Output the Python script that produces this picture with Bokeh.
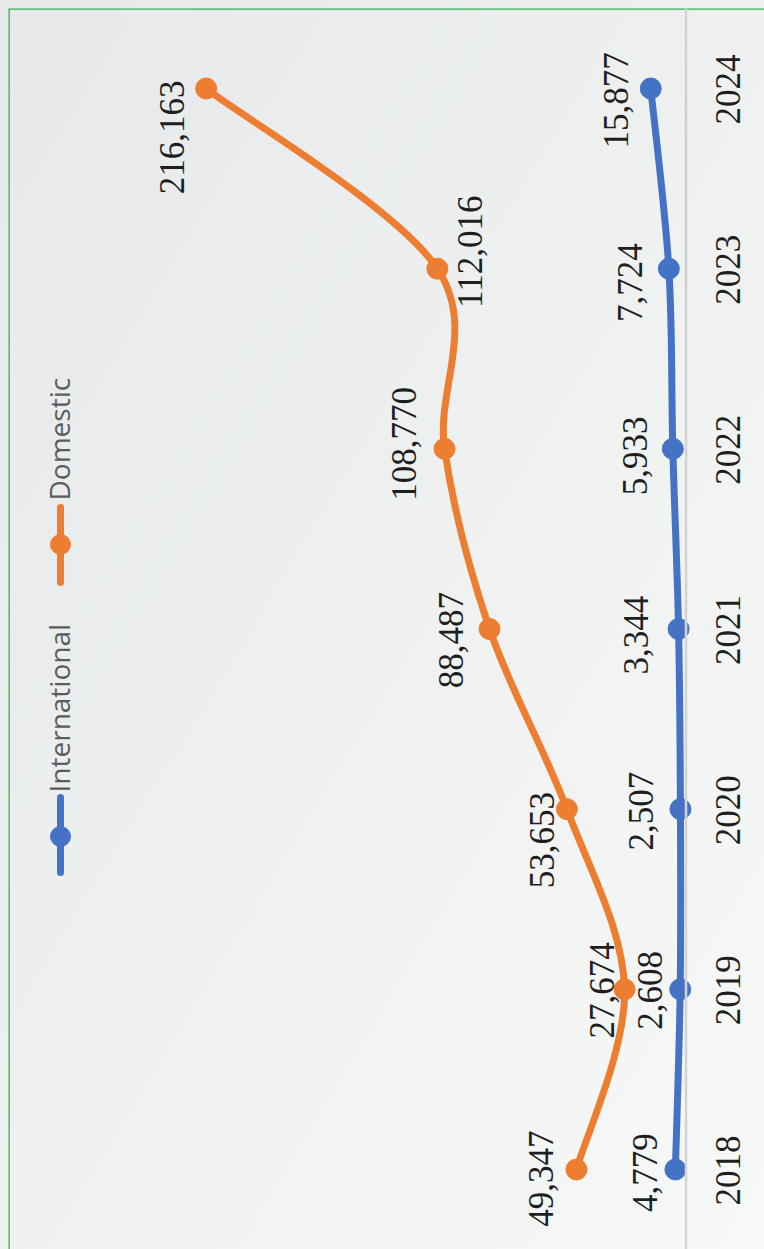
import math
import numpy as np
from bokeh.plotting import figure
from bokeh.models import ColumnDataSource, Range1d, Span
from bokeh.core.properties import value
from bokeh.embed import file_html
from bokeh.resources import INLINE

# ---------------- data ----------------
years = [2018, 2019, 2020, 2021, 2022, 2023, 2024]
international = [4779, 2608, 2507, 3344, 5933, 7724, 15877]
domestic = [49347, 27674, 53653, 88487, 108770, 112016, 216163]
series_names = ["International", "Domestic"]
series_colors = ["#4472C4", "#ED7D31"]

# ---------------- style: label nudges (screen px) ----------------
int_label_dx = [-30, -30, -39, -43, -38, -39, -35]
int_label_dy = [3, 1, 2, 6, 7, 14, 12]
dom_label_dx = [-35, -23, -25, -39, -41, 33, -34]
dom_label_dy = [9, 1, 31, 11, -5, -17, 49]

# ---------------- layout ----------------
MARGIN = 8
FW, FH = 756, 1241       # frame size
ZERO_PX = 677.5          # frame px (from left) where value 0 sits
PX_PER_UNIT = 0.00222    # px per unit of value
Y_PAD = 0.444            # years of padding at each end

x_range = Range1d(ZERO_PX / PX_PER_UNIT, -(FW - ZERO_PX) / PX_PER_UNIT)
y_range = Range1d(years[0] - Y_PAD, years[-1] + Y_PAD)
STEP = FH / (y_range.end - y_range.start)


def v_at(frame_x):
    return (ZERO_PX - frame_x) / PX_PER_UNIT


def yr_at(frame_y):
    return y_range.end - frame_y / STEP


p = figure(width=FW + MARGIN, height=FH + MARGIN, x_range=x_range, y_range=y_range,
           output_backend="svg", toolbar_location=None,
           min_border_left=MARGIN, min_border_top=MARGIN, min_border_right=0, min_border_bottom=0,
           x_axis_location=None, y_axis_location=None)
p.grid.visible = False
p.outline_line_color = None
p.background_fill_alpha = 0
p.border_fill_alpha = 0
p.styles = {"background": "linear-gradient(to bottom right, #e6e8ea 0%, #eef1f0 50%, #f6f9f8 100%)"}

# green canvas edge (top, left)
p.add_layout(Span(location=y_range.end, dimension="width", line_color="#2fb04a", line_width=2.5))
p.add_layout(Span(location=x_range.start, dimension="height", line_color="#2fb04a", line_width=2.5))
# category axis line
p.add_layout(Span(location=0, dimension="height", line_color="#d3d3d3", line_width=2.5))


def smooth_segments(vals, yrs):
    v = np.asarray(vals, dtype=float)
    t = np.asarray(yrs, dtype=float)
    n = len(v)
    out = {k: [] for k in ["x0", "y0", "x1", "y1", "cx0", "cy0", "cx1", "cy1"]}
    for i in range(n - 1):
        a = max(i - 1, 0)
        d = min(i + 2, n - 1)
        out["x0"].append(v[i]); out["y0"].append(t[i])
        out["x1"].append(v[i + 1]); out["y1"].append(t[i + 1])
        out["cx0"].append(v[i] + (v[i + 1] - v[a]) / 6)
        out["cy0"].append(t[i] + (t[i + 1] - t[a]) / 6)
        out["cx1"].append(v[i + 1] - (v[d] - v[i]) / 6)
        out["cy1"].append(t[i + 1] - (t[d] - t[i]) / 6)
    return out


label_font = value("Liberation Serif")
for vals, color, dx, dy in [(international, series_colors[0], int_label_dx, int_label_dy),
                            (domestic, series_colors[1], dom_label_dx, dom_label_dy)]:
    seg = ColumnDataSource(smooth_segments(vals, years))
    p.bezier(x0="x0", y0="y0", x1="x1", y1="y1", cx0="cx0", cy0="cy0", cx1="cx1", cy1="cy1",
             source=seg, line_color=color, line_width=7, line_cap="round")
    src = ColumnDataSource(dict(v=vals, yr=years, lab=[f"{x:,}" for x in vals], dx=dx, dy=dy))
    p.scatter(x="v", y="yr", source=src, size=21, fill_color=color, line_color=color)
    p.text(x="v", y="yr", text="lab", source=src, x_offset="dx", y_offset="dy",
           angle=math.pi / 2, text_align="center", text_baseline="middle",
           text_font=label_font, text_font_size="35px", text_color="#1e1e1e")

# category (year) labels
ysrc = ColumnDataSource(dict(v=[0] * len(years), yr=years, lab=[str(y) for y in years]))
p.text(x="v", y="yr", text="lab", source=ysrc, x_offset=42, y_offset=1,
       angle=math.pi / 2, text_align="center", text_baseline="middle",
       text_font=label_font, text_font_size="35px", text_color="#1e1e1e")

# legend (rotated, drawn manually)
leg_x = v_at(52)
leg_items = [(series_names[0], series_colors[0], 864, 789, 828, 784),
             (series_names[1], series_colors[1], 574, 499, 536, 492)]
for name, color, fy0, fy1, fyc, fyt in leg_items:
    p.segment(x0=[leg_x], y0=[yr_at(fy0)], x1=[leg_x], y1=[yr_at(fy1)],
              line_color=color, line_width=7, line_cap="round")
    p.scatter(x=[leg_x], y=[yr_at(fyc)], size=20, fill_color=color, line_color=color)
    p.text(x=[leg_x], y=[yr_at(fyt)], text=[name], angle=math.pi / 2, x_offset=-2,
           text_align="left", text_baseline="middle",
           text_font=value("Open Sans"), text_font_size="28px", text_color="#5c5c5c")

open("out.html", "w").write(file_html(p, INLINE))
